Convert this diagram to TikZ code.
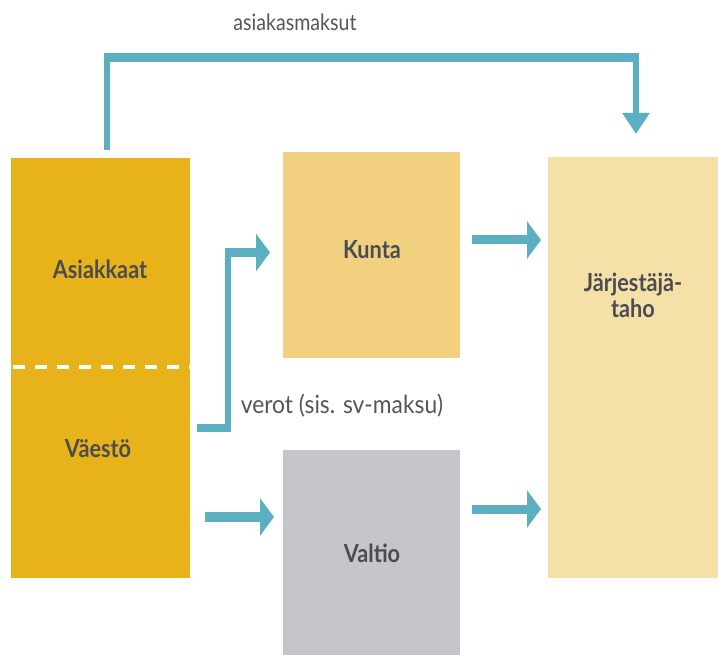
\documentclass[tikz,border=0pt]{standalone}
\usepackage{fontspec}
\setmainfont{Lato}
\usetikzlibrary{arrows.meta}
\definecolor{gold}{HTML}{E8B31A}
\definecolor{kuntac}{HTML}{F1D17F}
\definecolor{jarjc}{HTML}{F5E0A8}
\definecolor{valtioc}{HTML}{C5C6CA}
\definecolor{tealc}{HTML}{5BAFC1}
\definecolor{txt}{HTML}{4B4C52}
\definecolor{ltxt}{HTML}{55565B}
\newcommand{\vst}[1]{\scalebox{1}[1.15]{#1}}
\tikzset{
  box/.style={inner sep=0pt, outer sep=0pt, anchor=north west},
  lbl/.style={inner sep=0pt, text=txt, font=\fontsize{21.7}{23}\selectfont\bfseries},
  note/.style={inner sep=0pt, text=ltxt, font=\fontsize{19.6}{22}\selectfont},
  hl/.style={draw=tealc, line width=9pt},
  vl/.style={draw=tealc, line width=6pt},
  htip/.style={-{Triangle[length=14pt,width=37pt]}},
  vtip/.style={-{Triangle[length=21pt,width=26pt]}},
}
\begin{document}
\begin{tikzpicture}[x=1pt,y=-1pt]
\useasboundingbox (0,0) rectangle (718,655);
% boxes
\node[box, fill=gold, minimum width=179pt, minimum height=420pt] (asia) at (11,158) {};
\node[box, fill=kuntac, minimum width=177pt, minimum height=206pt] (kunta) at (283,152) {};
\node[box, fill=valtioc, minimum width=177pt, minimum height=206pt] (valtio) at (283,450) {};
\node[box, fill=jarjc, minimum width=171pt, minimum height=421pt] (jarj) at (548,157) {};
% dashed divider
\coordinate (dl) at (11,367);
\coordinate (dr) at (190,367);
\draw[white, line width=4pt, dash pattern=on 12pt off 10pt, dash phase=-2pt] (dl) -- (dr);
% labels
\node[lbl] (asiakkaat) at (100,269) {\vst{Asiakkaat}};
\node[lbl] (vaesto) at (98,449) {\vst{Väestö}};
\node[lbl] (kuntal) at (372,250) {\vst{Kunta}};
\node[lbl] (valtiol) at (372,553) {\vst{Valtio}};
\node[lbl] (jarjl) at (633,299) {\vst{\begin{tabular}{@{}c@{}}Järjestäjä-\\taho\end{tabular}}};
\node[note] (maksut) at (295,22) {\vst{asiakasmaksut}};
\node[note, font=\fontsize{22.8}{24}\selectfont] (verot) at (342,406) {\scalebox{1}[1.1]{verot (sis. sv-maksu)}};
% top arrow: asiakkaat -> jarjestaja
\coordinate (t0) at (106.5,150);
\coordinate (t1) at (106.5,53);
\coordinate (t2) at (636,53);
\coordinate (t3) at (636,134);
\draw[vl] (t0) -- (t1);
\draw[hl] (103.5,57.5) -- (639,57.5);
\draw[vl, vtip] (t2) -- (t3);
% veroista kunnalle
\coordinate (k0) at (197,428);
\coordinate (k1) at (228,428);
\coordinate (k2) at (228,252.5);
\coordinate (k3) at (270,252.5);
\draw[draw=tealc, line width=8pt] (k0) -- (231,428);
\draw[vl] (228,432) -- (228,248);
\draw[hl, htip] (225,252.5) -- (k3);
% vaesto -> valtio
\coordinate (v0) at (205,517);
\coordinate (v1) at (274,517);
\draw[draw=tealc, line width=10pt, htip] (v0) -- (v1);
% kunta -> jarj, valtio -> jarj
\coordinate (kj0) at (472,240);
\coordinate (kj1) at (541,240);
\draw[hl, htip] (kj0) -- (kj1);
\coordinate (vj0) at (472,509);
\coordinate (vj1) at (541,509);
\draw[hl, htip] (vj0) -- (vj1);
\end{tikzpicture}
\end{document}
